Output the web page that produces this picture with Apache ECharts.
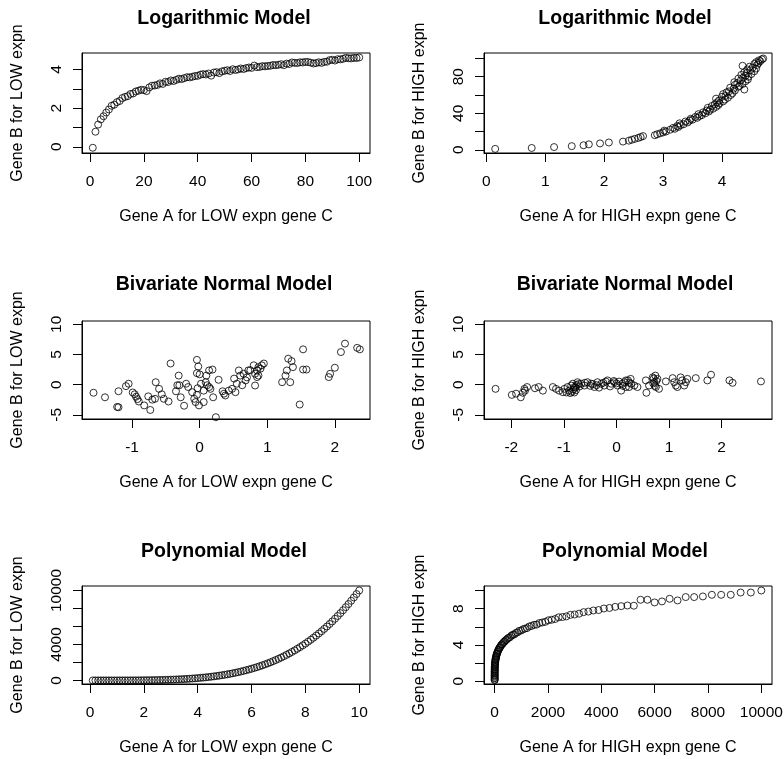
<!DOCTYPE html>
<html>
<head>
<meta charset="utf-8">
<script src="https://cdn.jsdelivr.net/npm/echarts@6/dist/echarts.min.js"></script>
<style>
  html, body { margin: 0; padding: 0; background: #fff; }
  #chart { width: 784px; height: 759px; }
</style>
</head>
<body>
<div id="chart"></div>
<script>
// ---- data ----
const logLowX = [
  1, 2, 3, 4, 5, 6, 7, 8, 9, 10, 11, 12, 13, 14, 15, 16, 17, 18, 19, 20,
  21, 22, 23, 24, 25, 26, 27, 28, 29, 30, 31, 32, 33, 34, 35, 36, 37, 38, 39, 40,
  41, 42, 43, 44, 45, 46, 47, 48, 49, 50, 51, 52, 53, 54, 55, 56, 57, 58, 59, 60,
  61, 62, 63, 64, 65, 66, 67, 68, 69, 70, 71, 72, 73, 74, 75, 76, 77, 78, 79, 80,
  81, 82, 83, 84, 85, 86, 87, 88, 89, 90, 91, 92, 93, 94, 95, 96, 97, 98, 99, 100
];
const logLowY = [
  -0.05, 0.78, 1.15, 1.42, 1.58, 1.77, 1.93, 2.12, 2.18, 2.31,
  2.37, 2.52, 2.58, 2.62, 2.73, 2.76, 2.86, 2.9, 2.95, 2.93,
  2.88, 3.07, 3.16, 3.17, 3.2, 3.28, 3.25, 3.36, 3.35, 3.43,
  3.4, 3.46, 3.52, 3.5, 3.55, 3.6, 3.59, 3.62, 3.66, 3.67,
  3.73, 3.76, 3.74, 3.79, 3.68, 3.84, 3.86, 3.81, 3.9, 3.93,
  3.96, 3.92, 4.01, 3.97, 4.0, 4.05, 4.02, 4.07, 4.1, 4.08,
  4.2, 4.12, 4.13, 4.17, 4.16, 4.18, 4.19, 4.23, 4.22, 4.24,
  4.27, 4.22, 4.3, 4.28, 4.36, 4.34, 4.33, 4.37, 4.36, 4.39,
  4.38, 4.35, 4.31, 4.33, 4.37, 4.34, 4.39, 4.4, 4.48, 4.5,
  4.46, 4.53, 4.52, 4.55, 4.6, 4.58, 4.57, 4.6, 4.59, 4.62
];

const logHighX = [
  0.15, 0.77, 1.15, 1.45, 1.65, 1.74, 1.93, 2.08, 2.32, 2.42,
  2.47, 2.52, 2.58, 2.62, 2.66, 2.86, 2.9, 2.95, 3.0, 3.05,
  3.02, 3.12, 3.2, 3.17, 3.26, 3.24, 3.3, 3.35, 3.28, 3.42,
  3.38, 3.45, 3.5, 3.47, 3.58, 3.55, 3.62, 3.66, 3.6, 3.72,
  3.68, 3.78, 3.74, 3.8, 3.85, 3.76, 3.9, 3.83, 3.94, 3.88,
  3.96, 3.92, 4.02, 3.95, 4.05, 3.9, 4.1, 4.0, 4.06, 4.15,
  4.02, 4.18, 4.08, 4.12, 4.22, 4.38, 4.2, 4.14, 4.28, 4.3,
  4.22, 4.35, 4.26, 4.21, 4.4, 4.32, 4.44, 4.28, 4.36, 4.45,
  4.4, 4.33, 4.5, 4.42, 4.38, 4.55, 4.48, 4.43, 4.58, 4.52,
  4.47, 4.35, 4.6, 4.55, 4.62, 4.58, 4.65, 4.63, 4.68, 4.7
];
const logHighY = [
  1, 2, 3, 4, 5, 6, 7, 8, 9, 10, 11, 12, 13, 14, 15, 16, 17, 18, 19, 20,
  21, 22, 23, 24, 25, 26, 27, 28, 29, 30, 31, 32, 33, 34, 35, 36, 37, 38, 39, 40,
  41, 42, 43, 44, 45, 46, 47, 48, 49, 50, 51, 52, 53, 54, 55, 56, 57, 58, 59, 60,
  61, 62, 63, 64, 65, 66, 67, 68, 69, 70, 71, 72, 73, 74, 75, 76, 77, 78, 79, 80,
  81, 82, 83, 84, 85, 86, 87, 88, 89, 90, 91, 92, 93, 94, 95, 96, 97, 98, 99, 100
];

const bivLowX = [
  -1.57, -1.4, -1.22, -1.2, -1.2, -1.09, -1.05, -0.99, -0.96, -0.94,
  -0.92, -0.9, -0.82, -0.73, -0.76, -0.7, -0.66, -0.65, -0.6, -0.56,
  -0.53, -0.46, -0.43, -0.31, -0.35, -0.3, -0.28, -0.23, -0.2, -0.17,
  -0.11, -0.08, -0.06, -0.04, -0.02, -0.04, 0, 0.1, 0.14, 0.19,
  0.09, 0.11, 0.14, 0.16, 0.06, 0.28, 0.2, 0.24, 0.34, 0.38,
  0.43, 0.02, 0.06, -0.01, 0.36, 0.48, 0.53, 0.51, 0.58, 0.55,
  0.63, 0.6, 0.65, 0.68, 0.72, 0.8, 0.82, 0.85, 0.87, 0.9,
  0.92, 0.95, 0.85, 0.87, 0.82, 1.22, 1.29, 1.31, 1.36, 1.38,
  1.34, 1.27, 1.53, 1.53, 1.58, 1.48, 1.91, 1.93, 2.0, 2.09,
  2.15, 2.33, 2.37, -0.04, -0.03, 0.7, 0.75, -0.33
];
const bivLowY = [
  -1.35, -2.1, -3.7, -3.75, -1.1, -0.25, 0.15, -1.3, -1.6, -2.0,
  -2.4, -2.8, -3.45, -4.2, -1.95, -2.5, -2.35, 0.4, -0.7, -1.6,
  -2.35, -2.8, 3.5, 1.5, -1.1, -0.1, -2.1, -3.5, 0.15, -0.4,
  -1.25, -2.35, -2.9, 4.1, 3.0, 1.9, 1.7, 1.5, 2.35, 2.5,
  0.4, -0.1, -0.4, -0.7, -1.0, 0.8, -2.1, -5.4, -1.1, -1.8,
  -1.0, 0.15, -2.9, -3.45, -1.5, -0.7, -1.25, 1.0, 2.35, 0.15,
  -0.1, 1.5, 1.8, 0.7, 2.35, 3.2, 1.8, 2.35, 2.9, 2.65,
  3.2, 3.5, 1.25, 1.5, -0.15, 0.4, 2.35, 4.3, 3.9, 2.9,
  0.4, 1.5, 5.85, 2.5, 2.5, -3.3, 1.25, 1.8, 2.8, 5.4,
  6.8, 6.1, 5.85, -1.7, -0.6, 1.2, 2.4, -0.1
];

const bivHighX = [
  -2.3, -1.99, -1.91, -1.82, -1.78, -1.75, -1.7, -1.74, -1.55, -1.48,
  -1.4, -1.21, -1.15, -1.09, -1.02, -0.99, -0.93, -0.9, -0.86, -0.83,
  -0.8, -0.74, -0.67, -0.61, -0.55, -0.48, -0.42, -0.36, -0.29, -0.23,
  -0.17, -0.1, -0.04, 0.02, 0.09, 0.15, 0.22, 0.28, -0.88, -0.85,
  -0.82, -0.78, -0.76, -0.72, -0.7, -0.77, -0.8, -0.95, -0.6, -0.5,
  -0.45, -0.38, -0.33, -0.25, -0.2, -0.12, -0.05, 0, 0.05, 0.12,
  0.18, 0.25, 0.11, 0.18, 0.24, 0.27, 0.34, 0.4, 0.56, 0.57,
  0.62, 0.69, 0.72, 0.75, 0.78, 0.81, 0.74, 0.94, 1.07, 1.1,
  1.13, 1.16, 1.22, 1.25, 1.29, 1.32, 1.35, 1.51, 1.73, 1.8,
  2.15, 2.21, 2.75, 0.7, 0.73, 0.76, 0.71
];
const bivHighY = [
  -0.7, -1.7, -1.5, -2.1, -1.35, -0.7, -0.4, -1.0, -0.6, -0.4,
  -1.0, -0.4, -0.7, -1.0, -1.25, -0.7, -0.4, -1.0, -0.15, 0.15,
  -0.4, 0.4, 0.15, -0.15, 0.4, 0.15, -0.4, 0.4, 0.15, -0.15,
  0.7, 0.15, 0.4, -0.15, -1.0, 0.4, 0.7, 0.15, -1.4, -1.2,
  -0.8, -0.5, -0.1, 0.1, -0.3, -0.9, -1.3, -1.3, 0.3, -0.2,
  0.1, -0.1, -0.5, 0.3, 0.5, -0.3, 0.6, 0.2, 0.5, -0.2,
  -0.4, 0.3, 0.15, 0.7, -0.4, 0.95, -0.15, -0.4, 0.7, -1.35,
  -0.15, 1.2, 0.4, -0.4, 0.95, -0.7, 1.5, 0.53, 1.08, 0.4,
  -0.15, -0.4, 1.2, 0.7, -0.15, 0.4, 0.95, 1.08, 0.7, 1.64,
  0.7, 0.3, 0.53, 0.2, -0.2, 0.6, 1.0
];

const polyLowX = [
  0.1, 0.2, 0.3, 0.4, 0.5, 0.6, 0.7, 0.8, 0.9, 1,
  1.1, 1.2, 1.3, 1.4, 1.5, 1.6, 1.7, 1.8, 1.9, 2,
  2.1, 2.2, 2.3, 2.4, 2.5, 2.6, 2.7, 2.8, 2.9, 3,
  3.1, 3.2, 3.3, 3.4, 3.5, 3.6, 3.7, 3.8, 3.9, 4,
  4.1, 4.2, 4.3, 4.4, 4.5, 4.6, 4.7, 4.8, 4.9, 5,
  5.1, 5.2, 5.3, 5.4, 5.5, 5.6, 5.7, 5.8, 5.9, 6,
  6.1, 6.2, 6.3, 6.4, 6.5, 6.6, 6.7, 6.8, 6.9, 7,
  7.1, 7.2, 7.3, 7.4, 7.5, 7.6, 7.7, 7.8, 7.9, 8,
  8.1, 8.2, 8.3, 8.4, 8.5, 8.6, 8.7, 8.8, 8.9, 9,
  9.1, 9.2, 9.3, 9.4, 9.5, 9.6, 9.7, 9.8, 9.9, 10
];
const polyLowY = [
  0, 0, 0.01, 0.03, 0.06, 0.13, 0.24, 0.41, 0.66, 1,
  1.46, 2.07, 2.86, 3.84, 5.06, 6.55, 8.35, 10.5, 13, 16,
  19.4, 23.4, 28, 33.2, 39.1, 45.7, 53.1, 61.5, 70.7, 81,
  92.4, 104.9, 118.6, 133.6, 150.1, 168, 187.4, 208.5, 231.3, 256,
  282.6, 311.2, 341.9, 374.8, 410.1, 447.7, 488, 530.8, 576.5, 625,
  676.5, 731.2, 789, 850.3, 915.1, 983.4, 1055.6, 1131.6, 1211.7, 1296,
  1384.6, 1477.6, 1575.3, 1677.7, 1785.1, 1897.5, 2015.1, 2138.1, 2266.7, 2401,
  2541.2, 2687.4, 2839.8, 2998.7, 3164.1, 3336.2, 3515.3, 3701.5, 3895, 4096,
  4304.7, 4521.2, 4745.8, 4978.7, 5220.1, 5470.1, 5728.9, 5996.9, 6274.2, 6561,
  6857.5, 7163.9, 7480.5, 7807.5, 8145.1, 8493.5, 8852.9, 9223.7, 9605.9, 10000
];

const polyHighX = [
  0, 0, 0.01, 0.03, 0.06, 0.13, 0.24, 0.41, 0.66, 1,
  1.46, 2.07, 2.86, 3.84, 5.06, 6.55, 8.35, 10.5, 13, 16,
  19.4, 23.4, 28, 33.2, 39.1, 45.7, 53.1, 61.5, 70.7, 81,
  92.4, 104.9, 118.6, 133.6, 150.1, 168, 187.4, 208.5, 231.3, 256,
  282.6, 311.2, 341.9, 374.8, 410.1, 447.7, 488, 530.8, 576.5, 625,
  676.5, 731.2, 789, 850.3, 915.1, 983.4, 1055.6, 1131.6, 1211.7, 1296,
  1384.6, 1477.6, 1575.3, 1677.7, 1785.1, 1897.5, 2015.1, 2138.1, 2266.7, 2401,
  2541.2, 2687.4, 2839.8, 2998.7, 3164.1, 3336.2, 3515.3, 3701.5, 3895, 4096,
  4304.7, 4521.2, 4745.8, 4978.7, 5220.1, 5470.1, 5728.9, 5996.9, 6274.2, 6561,
  6857.5, 7163.9, 7480.5, 7807.5, 8145.1, 8493.5, 8852.9, 9223.7, 9605.9, 10000
];
const polyHighY = [
  0.12, 0.18, 0.33, 0.38, 0.52, 0.63, 0.68, 0.82, 0.91, 1.02,
  1.08, 1.22, 1.31, 1.38, 1.52, 1.61, 1.7, 1.83, 1.88, 2.02,
  2.12, 2.18, 2.33, 2.41, 2.48, 2.62, 2.7, 2.79, 2.93, 3.02,
  3.08, 3.22, 3.3, 3.42, 3.48, 3.63, 3.7, 3.78, 3.92, 4.04,
  4.08, 4.2, 4.33, 4.38, 4.52, 4.58, 4.72, 4.8, 4.86, 5.03,
  5.12, 5.15, 5.32, 5.38, 5.55, 5.58, 5.72, 5.8, 5.86, 6.04,
  6.1, 6.22, 6.25, 6.42, 6.48, 6.55, 6.72, 6.78, 6.86, 7.05,
  7.08, 7.15, 7.32, 7.36, 7.45, 7.62, 7.68, 7.8, 7.85, 8.02,
  8.08, 8.2, 8.28, 8.35, 8.33, 8.98, 8.98, 8.69, 8.8, 9.09,
  8.91, 9.28, 9.28, 9.35, 9.53, 9.53, 9.53, 9.78, 9.78, 10.0
];

// tick positions and the labels R kept
const logLowXTicks = [0, 20, 40, 60, 80, 100];
const logLowYTicks = [0, 1, 2, 3, 4];
const logLowYLabels = [0, 2, 4];
const logHighXTicks = [0, 1, 2, 3, 4];
const logHighYTicks = [0, 20, 40, 60, 80, 100];
const logHighYLabels = [0, 40, 80];
const bivLowXTicks = [-1, 0, 1, 2];
const bivHighXTicks = [-2, -1, 0, 1, 2];
const bivYTicks = [-5, 0, 5, 10];
const polyLowXTicks = [0, 2, 4, 6, 8, 10];
const polyLowYTicks = [0, 2000, 4000, 6000, 8000, 10000];
const polyLowYLabels = [0, 4000, 10000];
const polyHighXTicks = [0, 2000, 4000, 6000, 8000, 10000];
const polyHighYTicks = [0, 2, 4, 6, 8, 10];
const polyHighYLabels = [0, 4, 8];

// ---- layout ----
const FONT = "'Liberation Sans', Arial, sans-serif";
const colLeft = [82, 484];
const boxWidth = 288;
const rowTop = [53, 321, 586];
const rowHeight = [100, 98, 98];
const titleCenterX = [224, 625];
const titleCenterY = [19, 285, 552];

const panels = [
  { row: 0, col: 0, title: "Logarithmic Model", xs: logLowX, ys: logLowY,
    xName: "Gene A for LOW expn gene C", yName: "Gene B for LOW expn",
    xMin: -3, xMax: 104, yMin: -0.32, yMax: 4.85,
    xTicks: logLowXTicks, xLabels: logLowXTicks, yTicks: logLowYTicks, yLabels: logLowYLabels },
  { row: 0, col: 1, title: "Logarithmic Model", xs: logHighX, ys: logHighY,
    xName: "Gene A for HIGH expn gene C", yName: "Gene B for HIGH expn",
    xMin: -0.04, xMax: 4.85, yMin: -3.5, yMax: 106,
    xTicks: logHighXTicks, xLabels: logHighXTicks, yTicks: logHighYTicks, yLabels: logHighYLabels },
  { row: 1, col: 0, title: "Bivariate Normal Model", xs: bivLowX, ys: bivLowY,
    xName: "Gene A for LOW expn gene C", yName: "Gene B for LOW expn",
    xMin: -1.74, xMax: 2.52, yMin: -5.7, yMax: 10.55,
    xTicks: bivLowXTicks, xLabels: bivLowXTicks, yTicks: bivYTicks, yLabels: bivYTicks },
  { row: 1, col: 1, title: "Bivariate Normal Model", xs: bivHighX, ys: bivHighY,
    xName: "Gene A for HIGH expn gene C", yName: "Gene B for HIGH expn",
    xMin: -2.52, xMax: 2.96, yMin: -5.7, yMax: 10.55,
    xTicks: bivHighXTicks, xLabels: bivHighXTicks, yTicks: bivYTicks, yLabels: bivYTicks },
  { row: 2, col: 0, title: "Polynomial Model", xs: polyLowX, ys: polyLowY,
    xName: "Gene A for LOW expn gene C", yName: "Gene B for LOW expn",
    xMin: -0.3, xMax: 10.4, yMin: -400, yMax: 10500,
    xTicks: polyLowXTicks, xLabels: polyLowXTicks, yTicks: polyLowYTicks, yLabels: polyLowYLabels },
  { row: 2, col: 1, title: "Polynomial Model", xs: polyHighX, ys: polyHighY,
    xName: "Gene A for HIGH expn gene C", yName: "Gene B for HIGH expn",
    xMin: -400, xMax: 10400, yMin: -0.3, yMax: 10.5,
    xTicks: polyHighXTicks, xLabels: polyHighXTicks, yTicks: polyHighYTicks, yLabels: polyHighYLabels }
];

const black = "#000";
const plain = (v) => String(v);

const option = {
  animation: false,
  backgroundColor: "#fff",
  title: panels.map((p) => ({
    text: p.title,
    left: titleCenterX[p.col] - 5,
    top: titleCenterY[p.row] - 15,
    textAlign: "center",
    textStyle: { fontFamily: FONT, fontSize: 19.5, fontWeight: "bold", color: black }
  })),
  grid: panels.map((p) => ({
    left: colLeft[p.col],
    top: rowTop[p.row],
    width: boxWidth,
    height: rowHeight[p.row],
    show: true,
    borderColor: black,
    borderWidth: 1,
    backgroundColor: "transparent",
    containLabel: false,
    outerBoundsMode: "none"
  })),
  xAxis: panels.map((p, i) => ({
    type: "value",
    gridIndex: i,
    min: p.xMin,
    max: p.xMax,
    name: p.xName,
    nameLocation: "middle",
    nameGap: 56,
    nameTextStyle: { fontFamily: FONT, fontSize: 16, color: black },
    axisLine: { show: true, onZero: false, lineStyle: { color: black, width: 1 } },
    axisTick: { show: true, length: 9, customValues: p.xTicks, lineStyle: { color: black, width: 1 } },
    axisLabel: { customValues: p.xLabels, margin: 21, formatter: plain,
      fontFamily: FONT, fontSize: 15.5, color: black },
    splitLine: { show: false }
  })),
  yAxis: panels.map((p, i) => ({
    type: "value",
    gridIndex: i,
    min: p.yMin,
    max: p.yMax,
    name: p.yName,
    nameLocation: "middle",
    nameGap: 56,
    nameTextStyle: { fontFamily: FONT, fontSize: 16, color: black },
    axisLine: { show: true, onZero: false, lineStyle: { color: black, width: 1 } },
    axisTick: { show: true, length: 9, customValues: p.yTicks, lineStyle: { color: black, width: 1 } },
    axisLabel: { customValues: p.yLabels, margin: 17, rotate: 90, formatter: plain,
      fontFamily: FONT, fontSize: 15.5, color: black },
    splitLine: { show: false }
  })),
  series: panels.map((p, i) => ({
    type: "scatter",
    xAxisIndex: i,
    yAxisIndex: i,
    data: p.xs.map((x, k) => [x, p.ys[k]]),
    symbol: "circle",
    symbolSize: 7,
    itemStyle: { color: "transparent", borderColor: black, borderWidth: 1 },
    emphasis: { disabled: true },
    silent: true
  }))
};

const chart = echarts.init(document.getElementById("chart"));
chart.setOption(option);
</script>
</body>
</html>
